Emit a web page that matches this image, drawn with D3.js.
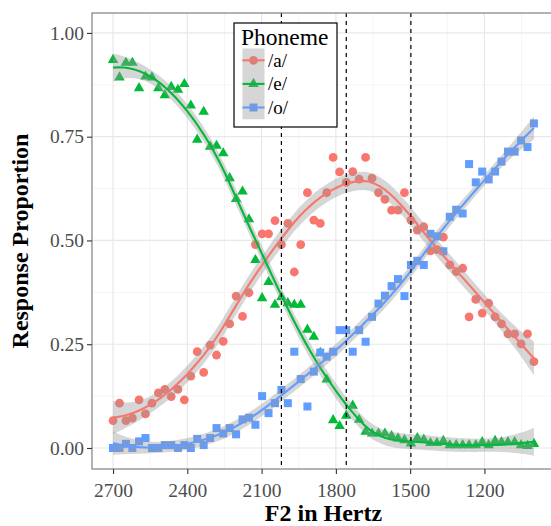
<!DOCTYPE html>
<html>
<head>
<meta charset="utf-8">
<script src="https://cdn.jsdelivr.net/npm/d3@7"></script>
<style>
  html, body { margin: 0; padding: 0; background: #fff; }
  svg { display: block; font-family: "Liberation Serif", "Times New Roman", serif; }
</style>
</head>
<body>
<svg id="chart" width="551" height="526"></svg>
<script>
// stimulus continuum (F2, Hz)
const f2Hz = [
  2700, 2674, 2648, 2622, 2595, 2569, 2543, 2517, 2491, 2465,
  2438, 2412, 2386, 2360, 2334, 2308, 2282, 2255, 2229, 2203,
  2177, 2151, 2125, 2098, 2072, 2046, 2020, 1994, 1968, 1942,
  1915, 1889, 1863, 1837, 1811, 1785, 1758, 1732, 1706, 1680,
  1654, 1628, 1602, 1575, 1549, 1523, 1497, 1471, 1445, 1418,
  1392, 1366, 1340, 1314, 1288, 1262, 1235, 1209, 1183, 1157,
  1131, 1105, 1078, 1052, 1026, 1000
];

// response proportions per phoneme
const propA = [
  0.066, 0.108, 0.066, 0.072, 0.116, 0.082, 0.108, 0.133, 0.141, 0.124,
  0.141, 0.116, 0.173, 0.232, 0.182, 0.248, 0.224, 0.257, 0.299, 0.366,
  0.317, 0.374, 0.490, 0.516, 0.516, 0.548, 0.490, 0.541, 0.424, 0.490,
  0.615, 0.549, 0.541, 0.615, 0.700, 0.665, 0.640, 0.666, 0.648, 0.700,
  0.650, 0.615, 0.599, 0.573, 0.573, 0.615, 0.549, 0.525, 0.533, 0.475,
  0.478, 0.508, 0.441, 0.425, 0.433, 0.316, 0.358, 0.325, 0.349, 0.316,
  0.299, 0.275, 0.275, 0.251, 0.275, 0.208
];
const propE = [
  0.935, 0.893, 0.928, 0.928, 0.867, 0.895, 0.893, 0.867, 0.850, 0.870,
  0.863, 0.877, 0.825, 0.743, 0.810, 0.726, 0.728, 0.710, 0.650, 0.600,
  0.618, 0.551, 0.453, 0.361, 0.400, 0.345, 0.363, 0.349, 0.345, 0.345,
  0.285, 0.268, 0.229, 0.165, 0.067, 0.053, 0.078, 0.102, 0.068, 0.039,
  0.035, 0.035, 0.035, 0.029, 0.023, 0.019, 0.011, 0.024, 0.020, 0.012,
  0.012, 0.017, 0.007, 0.007, 0.007, 0.007, 0.007, 0.014, 0.007, 0.017,
  0.014, 0.014, 0.014, 0.007, 0.005, 0.010
];
const propO = [
  0.000, 0.000, 0.010, 0.000, 0.016, 0.024, 0.000, 0.000, 0.007, 0.007,
  0.000, 0.007, 0.000, 0.022, 0.007, 0.024, 0.048, 0.035, 0.048, 0.033,
  0.069, 0.073, 0.056, 0.125, 0.084, 0.108, 0.140, 0.108, 0.232, 0.166,
  0.100, 0.184, 0.230, 0.220, 0.232, 0.284, 0.284, 0.232, 0.284, 0.256,
  0.316, 0.348, 0.367, 0.390, 0.407, 0.366, 0.441, 0.451, 0.441, 0.516,
  0.510, 0.474, 0.557, 0.574, 0.565, 0.684, 0.640, 0.666, 0.647, 0.666,
  0.690, 0.714, 0.714, 0.741, 0.725, 0.782
];

const phonemes = ["/a/", "/e/", "/o/"];
const colors = ["#F8766D", "#00BA38", "#619CFF"];
const shapes = ["circle", "triangle", "square"];
const seriesValues = [propA, propE, propO];

const xTicks = [2700, 2400, 2100, 1800, 1500, 1200];
const xMinor = [2550, 2250, 1950, 1650, 1350, 1050];
const yTicks = [0, 0.25, 0.5, 0.75, 1];
const yMinor = [0.125, 0.375, 0.625, 0.875];
const boundaries = [2020, 1758, 1497];

const smoothSpan = 0.55;

// ---- loess (degree 2, tricube, like stats::loess) ----
function loessSmooth(xs, ys, span, nOut) {
    const n = xs.length;
    const q = Math.floor(n * span);

    function weightsAt(x0) {
        const d = xs.map(v => Math.abs(v - x0));
        const h = d.slice().sort((a, b) => a - b)[q - 1];
        return { h, w: d.map(di => { const r = di / h; return r < 1 ? Math.pow(1 - r * r * r, 3) : 0; }) };
    }

    // operator row l(x0) so that fit = sum l_j y_j
    function rowAt(x0) {
        const { h, w } = weightsAt(x0);
        const M = [[0, 0, 0], [0, 0, 0], [0, 0, 0]];
        const U = xs.map(v => (v - x0) / h);
        for (let j = 0; j < n; j++) {
            const b = [1, U[j], U[j] * U[j]];
            for (let r = 0; r < 3; r++)
                for (let c = 0; c < 3; c++) M[r][c] += w[j] * b[r] * b[c];
        }
        const inv = invert3(M);
        return U.map((u, j) => w[j] * (inv[0][0] + inv[0][1] * u + inv[0][2] * u * u));
    }

    const L = xs.map(rowAt);
    const fitted = L.map(row => d3.sum(row, (l, j) => l * ys[j]));
    const rss = d3.sum(ys, (v, i) => (v - fitted[i]) ** 2);

    // delta1 = tr((I-L)'(I-L)), delta2 = tr(((I-L)'(I-L))^2)
    const A = L.map((row, i) => row.map((l, j) => (i === j ? 1 : 0) - l));
    const B = [];
    for (let i = 0; i < n; i++) {
        B.push([]);
        for (let j = 0; j < n; j++) {
            let s = 0;
            for (let k = 0; k < n; k++) s += A[k][i] * A[k][j];
            B[i].push(s);
        }
    }
    let delta1 = 0, delta2 = 0;
    for (let i = 0; i < n; i++) {
        delta1 += B[i][i];
        for (let j = 0; j < n; j++) delta2 += B[i][j] * B[j][i];
    }
    const sigma = Math.sqrt(rss / delta1);
    const df = delta1 * delta1 / delta2;
    const z = 1.959964;
    const tq = z + (z ** 3 + z) / (4 * df) + (5 * z ** 5 + 16 * z ** 3 + 3 * z) / (96 * df * df);

    const [lo, hi] = d3.extent(xs);
    const out = [];
    for (let k = 0; k < nOut; k++) {
        const x0 = lo + (hi - lo) * k / (nOut - 1);
        const row = rowAt(x0);
        const fit = d3.sum(row, (l, j) => l * ys[j]);
        const se = sigma * Math.sqrt(d3.sum(row, l => l * l));
        out.push({ x: x0, y: fit, ymin: fit - tq * se, ymax: fit + tq * se });
    }
    return out;
}

function invert3(m) {
    const [a, b, c] = m[0], [d, e, f] = m[1], [g, h, i] = m[2];
    const A = e * i - f * h, B = -(d * i - f * g), C = d * h - e * g;
    const det = a * A + b * B + c * C;
    return [
        [A / det, -(b * i - c * h) / det, (b * f - c * e) / det],
        [B / det, (a * i - c * g) / det, -(a * f - c * d) / det],
        [C / det, -(a * h - b * g) / det, (a * e - b * d) / det]
    ];
}

// ---- layout ----
const panel = { left: 92, right: 555, top: 13, bottom: 469 };
const svg = d3.select("#chart");

const x = d3.scaleLinear().domain([2785, 915]).range([panel.left, panel.right]);
const y = d3.scaleLinear().domain([-0.0506, 1.048]).range([panel.bottom, panel.top]);

svg.append("defs").append("clipPath").attr("id", "clip")
    .append("rect")
    .attr("x", panel.left).attr("y", panel.top)
    .attr("width", panel.right - panel.left).attr("height", panel.bottom - panel.top);

// grid
const grid = svg.append("g");
grid.selectAll("line.xminor").data(xMinor).enter().append("line")
    .attr("x1", d => x(d)).attr("x2", d => x(d))
    .attr("y1", panel.top).attr("y2", panel.bottom)
    .attr("stroke", "#f2f2f2").attr("stroke-width", 0.8);
grid.selectAll("line.yminor").data(yMinor).enter().append("line")
    .attr("y1", d => y(d)).attr("y2", d => y(d))
    .attr("x1", panel.left).attr("x2", panel.right)
    .attr("stroke", "#f2f2f2").attr("stroke-width", 0.8);
grid.selectAll("line.xmajor").data(xTicks).enter().append("line")
    .attr("x1", d => x(d)).attr("x2", d => x(d))
    .attr("y1", panel.top).attr("y2", panel.bottom)
    .attr("stroke", "#e8e8e8").attr("stroke-width", 1.2);
grid.selectAll("line.ymajor").data(yTicks).enter().append("line")
    .attr("y1", d => y(d)).attr("y2", d => y(d))
    .attr("x1", panel.left).attr("x2", panel.right)
    .attr("stroke", "#e8e8e8").attr("stroke-width", 1.2);

const plot = svg.append("g").attr("clip-path", "url(#clip)");

function drawShape(sel, shape, color) {
    if (shape === "circle") {
        sel.append("circle").attr("r", 4.4).attr("fill", color);
    } else if (shape === "triangle") {
        sel.append("path").attr("d", d3.symbol(d3.symbolTriangle, 48)()).attr("fill", color);
    } else {
        sel.append("rect").attr("x", -4).attr("y", -4).attr("width", 8).attr("height", 8).attr("fill", color);
    }
}

// points
seriesValues.forEach((vals, k) => {
    const g = plot.append("g");
    vals.forEach((v, i) => {
        const p = g.append("g").attr("transform", `translate(${x(f2Hz[i])},${y(v)})`);
        drawShape(p, shapes[k], colors[k]);
    });
});

// smooths: ribbon then line per group
const area = d3.area().x(d => x(d.x)).y0(d => y(d.ymin)).y1(d => y(d.ymax));
const line = d3.line().x(d => x(d.x)).y(d => y(d.y));
seriesValues.forEach((vals, k) => {
    const sm = loessSmooth(f2Hz, vals, smoothSpan, 80);
    plot.append("path").attr("d", area(sm))
        .attr("fill", "#999999").attr("fill-opacity", 0.4);
    plot.append("path").attr("d", line(sm))
        .attr("fill", "none").attr("stroke", colors[k]).attr("stroke-width", 2.1);
});

// category boundaries
plot.selectAll("line.bound").data(boundaries).enter().append("line")
    .attr("x1", d => x(d)).attr("x2", d => x(d))
    .attr("y1", panel.top).attr("y2", panel.bottom)
    .attr("stroke", "#000").attr("stroke-width", 1.2)
    .attr("stroke-dasharray", "4,4");

// panel border
svg.append("rect")
    .attr("x", panel.left).attr("y", panel.top)
    .attr("width", panel.right - panel.left).attr("height", panel.bottom - panel.top)
    .attr("fill", "none").attr("stroke", "#808080").attr("stroke-width", 1.2);

// axes
const yAxis = svg.append("g").attr("transform", `translate(${panel.left},0)`)
    .call(d3.axisLeft(y).tickValues(yTicks).tickFormat(d3.format(".2f")).tickSize(5).tickPadding(3));
const xAxis = svg.append("g").attr("transform", `translate(0,${panel.bottom})`)
    .call(d3.axisBottom(x).tickValues(xTicks).tickFormat(d3.format("d")).tickSize(5).tickPadding(9));
[xAxis, yAxis].forEach(a => {
    a.select(".domain").remove();
    a.selectAll(".tick line").attr("stroke", "#333").attr("stroke-width", 1.1);
    a.selectAll(".tick text").attr("fill", "#4d4d4d")
        .style("font-family", "'Liberation Serif', 'Times New Roman', serif")
        .style("font-size", "19.5px");
});

// axis titles
svg.append("text")
    .attr("x", (panel.left + panel.right) / 2).attr("y", 521)
    .attr("text-anchor", "middle")
    .style("font-size", "24px").style("font-weight", "bold")
    .text("F2 in Hertz");
svg.append("text")
    .attr("transform", `translate(28,${(panel.top + panel.bottom) / 2}) rotate(-90)`)
    .attr("text-anchor", "middle")
    .style("font-size", "24px").style("font-weight", "bold")
    .text("Response Proportion");

// legend
const legend = svg.append("g").attr("transform", "translate(234,23)");
legend.append("rect")
    .attr("width", 103).attr("height", 104)
    .attr("fill", "#fff").attr("stroke", "#000").attr("stroke-width", 1.2);
legend.append("text").attr("x", 7).attr("y", 22)
    .style("font-size", "23.5px").text("Phoneme");
const keyH = 23.6, keyW = 22;
phonemes.forEach((name, k) => {
    const ky = 25.5 + k * keyH;
    const key = legend.append("g").attr("transform", `translate(8.5,${ky})`);
    const pt = key.append("g").attr("transform", `translate(${keyW / 2},${keyH / 2})`);
    drawShape(pt, shapes[k], colors[k]);
    key.append("rect").attr("width", keyW).attr("height", keyH)
        .attr("fill", "#999999").attr("fill-opacity", 0.4);
    key.append("line").attr("x1", 0).attr("x2", keyW)
        .attr("y1", keyH / 2).attr("y2", keyH / 2)
        .attr("stroke", colors[k]).attr("stroke-width", 2.1);
    legend.append("text").attr("x", 34).attr("y", ky + keyH / 2)
        .attr("dominant-baseline", "central")
        .style("font-size", "19px").text(name);
});
</script>
</body>
</html>
